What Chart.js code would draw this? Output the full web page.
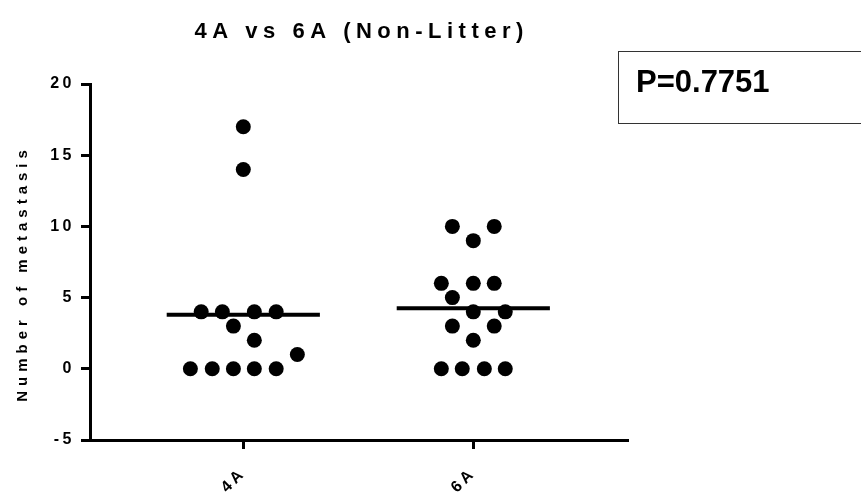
<!DOCTYPE html>
<html>
<head>
<meta charset="utf-8">
<script src="https://cdn.jsdelivr.net/npm/chart.js@4"></script>
<style>
  body { margin: 0; background: #fff; }
  canvas { display: block; }
</style>
</head>
<body>
<canvas id="myChart" width="861" height="494"></canvas>
<script>
// groups and values
const categories = ['4A', '6A'];
const values4A = [17, 14, 4, 4, 4, 4, 3, 2, 1, 0, 0, 0, 0, 0];
const values6A = [10, 10, 9, 6, 6, 6, 5, 4, 4, 3, 3, 2, 0, 0, 0, 0];
// horizontal scatter of each dot around its group (category units)
const jitter4A = [0, 0, -0.183, -0.091, 0.048, 0.143, -0.043, 0.048, 0.235, -0.230, -0.135, -0.043, 0.048, 0.143];
const jitter6A = [-0.091, 0.091, 0, -0.139, 0, 0.091, -0.091, 0, 0.139, -0.091, 0.091, 0, -0.139, -0.048, 0.048, 0.139];
const means = [3.79, 4.25];
const yTicks = [-5, 0, 5, 10, 15, 20];
const pValue = 'P=0.7751';
const titleText = '4A vs 6A (Non-Litter)';
const yTitle = 'Number of metastasis';

const FONT = "'Liberation Sans', Arial, sans-serif";
const lineHalf = 0.333;

function points(vals, jit, group) {
  return vals.map((v, i) => ({ x: group + jit[i], y: v }));
}
function meanLine(m, group) {
  return [{ x: group - lineHalf, y: m }, { x: group + lineHalf, y: m }];
}

const spacing = {
  id: 'spacing',
  beforeLayout(c) { c.ctx.letterSpacing = '3.5px'; },
  beforeDraw(c) { c.ctx.letterSpacing = '3.5px'; },
  afterDraw(c) {
    const ctx = c.ctx;
    const area = c.chartArea;
    ctx.save();
    ctx.fillStyle = '#000';
    // title
    ctx.letterSpacing = '5.5px';
    ctx.font = 'bold 22px ' + FONT;
    ctx.textAlign = 'left';
    ctx.textBaseline = 'alphabetic';
    let w = ctx.measureText(titleText).width - 5.5;
    ctx.fillText(titleText, (area.left + area.right) / 2 - w / 2, 38);
    // y axis title
    ctx.letterSpacing = '5px';
    ctx.font = 'bold 15px ' + FONT;
    w = ctx.measureText(yTitle).width - 5;
    ctx.translate(27, 276);
    ctx.rotate(-Math.PI / 2);
    ctx.fillText(yTitle, -w / 2, 0);
    ctx.restore();

    // P value box
    ctx.save();
    ctx.letterSpacing = '0px';
    ctx.strokeStyle = '#333';
    ctx.lineWidth = 1;
    ctx.strokeRect(618.5, 51.5, 260, 72);
    ctx.fillStyle = '#000';
    ctx.font = 'bold 31px ' + FONT;
    ctx.textAlign = 'left';
    ctx.fillText(pValue, 636, 92);
    ctx.restore();
  }
};

new Chart(document.getElementById('myChart'), {
  type: 'scatter',
  data: {
    datasets: [
      { data: points(values4A, jitter4A, 1), backgroundColor: '#000', borderWidth: 0, pointRadius: 7.5, pointHoverRadius: 7.5 },
      { data: points(values6A, jitter6A, 2), backgroundColor: '#000', borderWidth: 0, pointRadius: 7.5, pointHoverRadius: 7.5 },
      { type: 'line', data: meanLine(means[0], 1), borderColor: '#000', borderWidth: 4, pointRadius: 0 },
      { type: 'line', data: meanLine(means[1], 2), borderColor: '#000', borderWidth: 4, pointRadius: 0 }
    ]
  },
  options: {
    responsive: false,
    animation: false,
    layout: { padding: { top: 84, right: 233, left: 0, bottom: 0 } },
    plugins: {
      legend: { display: false },
      tooltip: { enabled: false }
    },
    scales: {
      x: {
        type: 'linear',
        min: 0.3335,
        max: 2.6726,
        afterBuildTicks: (s) => { s.ticks = categories.map((c, i) => ({ value: i + 1 })); },
        afterFit: (s) => { s.height = 54; },
        border: { display: true, color: '#000', width: 3 },
        grid: { drawOnChartArea: false, color: '#000', tickColor: '#000', tickLength: 9, tickWidth: 3 },
        ticks: {
          autoSkip: false,
          minRotation: 45,
          maxRotation: 45,
          padding: 15,
          color: '#000',
          font: { family: FONT, size: 16, weight: 'bold' },
          callback: (v) => categories[v - 1]
        }
      },
      y: {
        min: -5,
        max: 20,
        afterBuildTicks: (s) => { s.ticks = yTicks.map(v => ({ value: v })); },
        afterFit: (s) => { s.width = 90; },
        border: { display: true, color: '#000', width: 3 },
        grid: { drawOnChartArea: false, color: '#000', tickColor: '#000', tickLength: 9, tickWidth: 3 },
        ticks: {
          padding: 6,
          color: '#000',
          font: { family: FONT, size: 16, weight: 'bold' }
        }
      }
    }
  },
  plugins: [spacing]
});
</script>
</body>
</html>
